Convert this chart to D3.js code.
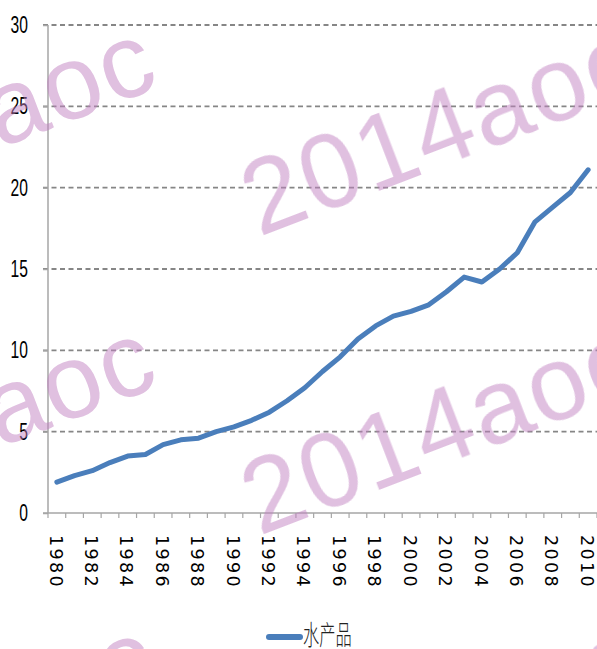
<!DOCTYPE html>
<meta charset="utf-8">
<script src="https://d3js.org/d3.v7.min.js"></script>
<style>
body { margin: 0; background: #fff; }
</style>
<div id="chart"></div>
<script>
// Data
var years = d3.range(1980, 2011);
var values = [1.9, 2.3, 2.6, 3.1, 3.5, 3.6, 4.2, 4.5, 4.6, 5.0,
              5.3, 5.7, 6.2, 6.9, 7.7, 8.7, 9.6, 10.7, 11.5, 12.1,
              12.4, 12.8, 13.6, 14.5, 14.2, 15.0, 16.0, 17.9, 18.8, 19.7, 21.1];
var yTicks = [0, 5, 10, 15, 20, 25, 30];
var xLabels = d3.range(1980, 2011, 2);
var seriesName = "水产品";
var watermarkText = "2014aoc";

var width = 597, height = 649;

var svg = d3.select("#chart").append("svg")
  .attr("width", width)
  .attr("height", height)
  .style("display", "block");

svg.append("rect").attr("width", width).attr("height", height).attr("fill", "#fff");

var x = d3.scaleBand().domain(years).range([48, 597]);
var y = d3.scaleLinear().domain([0, 30]).range([513, 25]);

// dashed grid lines
svg.append("g").selectAll("line")
  .data(yTicks.filter(function(d){ return d > 0; }))
  .enter().append("line")
    .attr("x1", 43).attr("x2", width)
    .attr("y1", function(d){ return y(d); })
    .attr("y2", function(d){ return y(d); })
    .attr("stroke", "#868686")
    .attr("stroke-width", 1.8)
    .attr("stroke-dasharray", "5,3.5");

// y axis
var yAxis = svg.append("g").attr("transform", "translate(48,0)")
  .call(d3.axisLeft(y).tickValues(yTicks).tickSize(5).tickFormat(""));
yAxis.selectAll("path, line").attr("stroke", "#a6a6a6").attr("stroke-width", 1.5);
yAxis.select(".domain").attr("d", "M0," + y(0) + "V" + y(30));

svg.append("g").selectAll("text")
  .data(yTicks)
  .enter().append("text")
    .attr("transform", function(d){ return "translate(28," + (y(d) + 8) + ") scale(0.68,1)"; })
    .attr("text-anchor", "end")
    .style("font-family", "'Liberation Sans', Arial, sans-serif")
    .style("font-size", "23px")
    .attr("fill", "#000")
    .text(function(d){ return d; });

// x axis with ticks at band boundaries
var xb = svg.append("g").attr("transform", "translate(0," + y(0) + ")");
xb.append("line").attr("x1", 43).attr("x2", width)
  .attr("stroke", "#a6a6a6").attr("stroke-width", 1.5);
xb.selectAll(".tk")
  .data(years.concat([null]))
  .enter().append("line")
    .attr("class", "tk")
    .attr("x1", function(d){ return d === null ? x.range()[1] : x(d); })
    .attr("x2", function(d){ return d === null ? x.range()[1] : x(d); })
    .attr("y1", 0).attr("y2", 5)
    .attr("stroke", "#a6a6a6").attr("stroke-width", 1.2);

svg.append("g").selectAll("text")
  .data(xLabels)
  .enter().append("text")
    .attr("transform", function(d){ return "translate(" + (x(d) + x.bandwidth() / 2 - 1) + ",535) rotate(90)"; })
    .attr("dy", "0.36em")
    .style("font-family", "'DejaVu Sans', Verdana, sans-serif")
    .style("font-size", "17.5px")
    .style("letter-spacing", "2.4px")
    .attr("fill", "#000")
    .text(function(d){ return d; });

// series line
var line = d3.line()
  .x(function(d, i){ return x(years[i]) + x.bandwidth() / 2; })
  .y(function(d){ return y(d); });

svg.append("path")
  .datum(values)
  .attr("d", line)
  .attr("fill", "none")
  .attr("stroke", "#4a7ebb")
  .attr("stroke-width", 5)
  .attr("stroke-linejoin", "round")
  .attr("stroke-linecap", "round");

// legend
svg.append("line")
  .attr("x1", 269).attr("x2", 300)
  .attr("y1", 637).attr("y2", 637)
  .attr("stroke", "#4a7ebb").attr("stroke-width", 6)
  .attr("stroke-linecap", "round");
svg.append("text")
  .attr("transform", "translate(303,645) scale(0.6,1)")
  .style("font-family", "'Noto Sans CJK SC', sans-serif")
  .style("font-size", "27px")
  .style("font-weight", 300)
  .attr("fill", "#222")
  .text(seriesName);

// watermark on top
var wm = svg.append("g").attr("fill", "#c080c0").attr("opacity", 0.5);
[0, 1, 2].forEach(function(r){
  [[-226, 235], [259, 237]].forEach(function(p){
    wm.append("text")
      .attr("transform", "translate(" + p[0] + "," + (p[1] + r * 299) + ") rotate(-21)")
      .style("font-family", "'Liberation Sans', Arial, sans-serif")
      .style("font-size", "105px")
      .style("letter-spacing", "2px")
      .text(watermarkText);
  });
});
</script>
